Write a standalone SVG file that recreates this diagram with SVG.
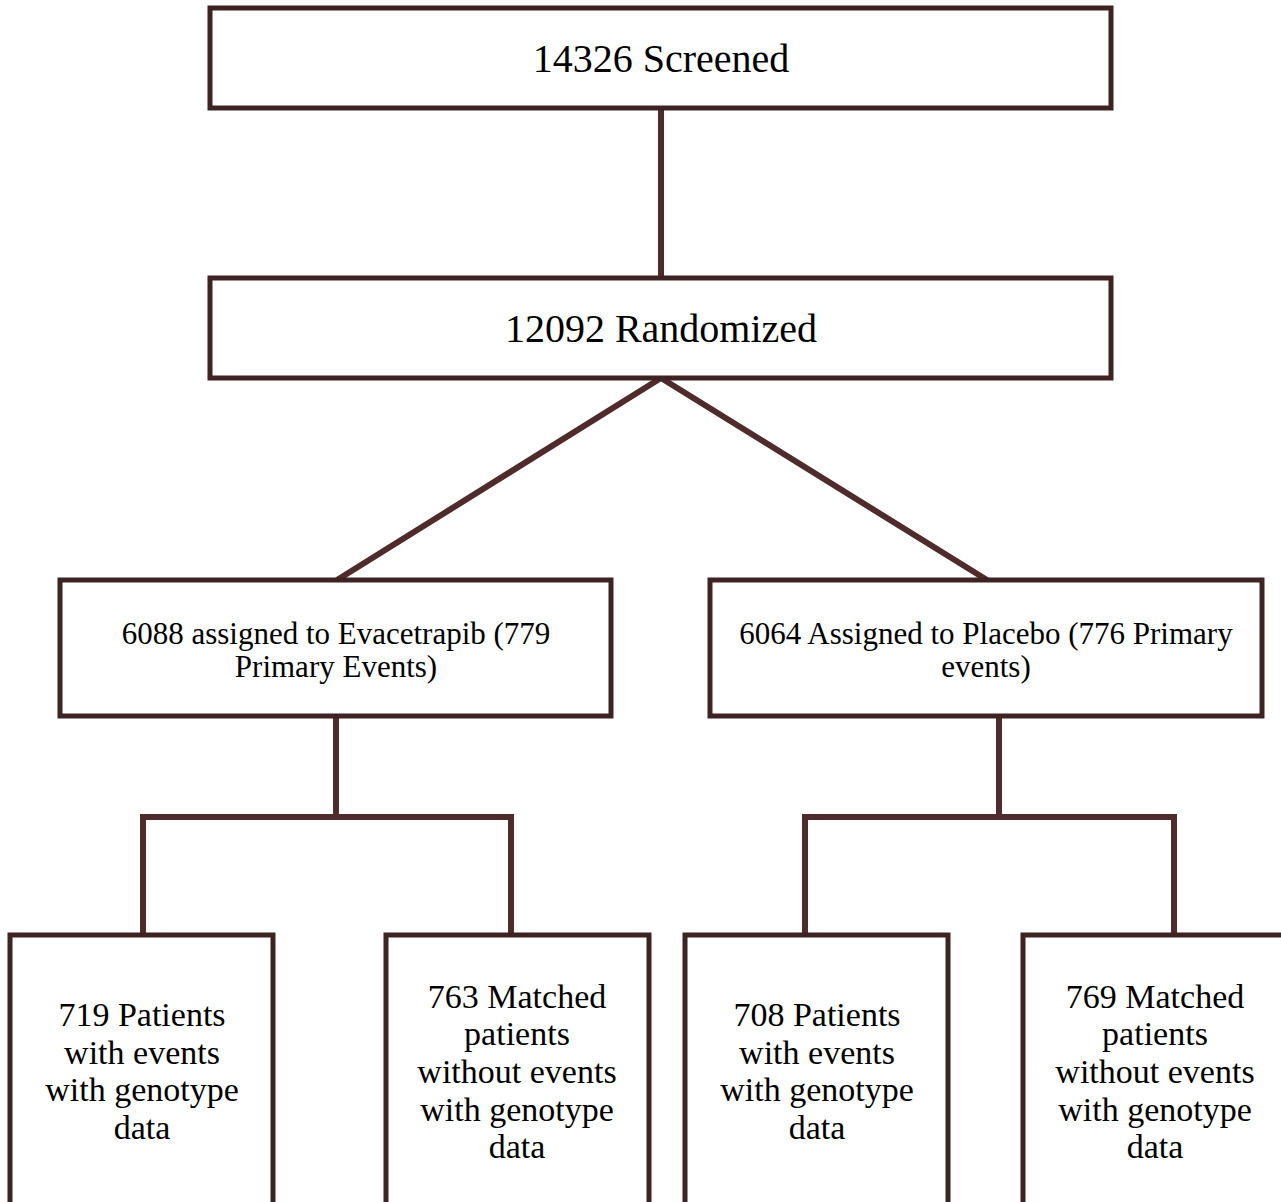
<svg xmlns="http://www.w3.org/2000/svg" width="1281" height="1202" viewBox="0 0 1281 1202">
<style>
.box{fill:#fff;stroke:#3e2323;stroke-width:5}
.t{font-family:"Liberation Serif","Times New Roman",serif;fill:#000;text-anchor:middle}
.big{font-size:40px}
.mid{font-size:31px}
.sm{font-size:34px}
.con{fill:none;stroke:#4f2b2b;stroke-width:6;stroke-linejoin:miter}
</style>
<rect width="1281" height="1202" fill="#fff"/>
<g id="connectors">
<line class="con" x1="661" y1="108" x2="661" y2="278"/>
<polyline class="con" points="337,580 661,378 987,580"/>
<line class="con" x1="336" y1="716" x2="336" y2="817"/>
<polyline class="con" points="143,935 143,817 511,817 511,935"/>
<line class="con" x1="999" y1="716" x2="999" y2="817"/>
<polyline class="con" points="805,935 805,817 1174,817 1174,935"/>
</g>
<g id="n1">
<rect class="box" x="210" y="8" width="901" height="100"/>
<text class="t big" x="661" y="72">14326 Screened</text>
</g>
<g id="n2">
<rect class="box" x="210" y="278" width="901" height="100"/>
<text class="t big" x="661" y="342">12092 Randomized</text>
</g>
<g id="n3">
<rect class="box" x="60" y="580" width="551" height="136"/>
<text class="t mid" x="336" y="644">6088 assigned to Evacetrapib (779</text>
<text class="t mid" x="336" y="677">Primary Events)</text>
</g>
<g id="n4">
<rect class="box" x="710" y="580" width="552" height="136"/>
<text class="t mid" x="986" y="644">6064 Assigned to Placebo (776 Primary</text>
<text class="t mid" x="986" y="677">events)</text>
</g>
<g id="n5">
<rect class="box" x="10" y="935" width="263" height="300"/>
<text class="t sm" x="142" y="1026">719 Patients</text>
<text class="t sm" x="142" y="1064">with events</text>
<text class="t sm" x="142" y="1101">with genotype</text>
<text class="t sm" x="142" y="1139">data</text>
</g>
<g id="n6">
<rect class="box" x="386" y="935" width="263" height="300"/>
<text class="t sm" x="517" y="1008">763 Matched</text>
<text class="t sm" x="517" y="1045">patients</text>
<text class="t sm" x="517" y="1083">without events</text>
<text class="t sm" x="517" y="1121">with genotype</text>
<text class="t sm" x="517" y="1158">data</text>
</g>
<g id="n7">
<rect class="box" x="685" y="935" width="263" height="300"/>
<text class="t sm" x="817" y="1026">708 Patients</text>
<text class="t sm" x="817" y="1064">with events</text>
<text class="t sm" x="817" y="1101">with genotype</text>
<text class="t sm" x="817" y="1139">data</text>
</g>
<g id="n8">
<rect class="box" x="1023" y="935" width="263" height="300"/>
<text class="t sm" x="1155" y="1008">769 Matched</text>
<text class="t sm" x="1155" y="1045">patients</text>
<text class="t sm" x="1155" y="1083">without events</text>
<text class="t sm" x="1155" y="1121">with genotype</text>
<text class="t sm" x="1155" y="1158">data</text>
</g>
</svg>
